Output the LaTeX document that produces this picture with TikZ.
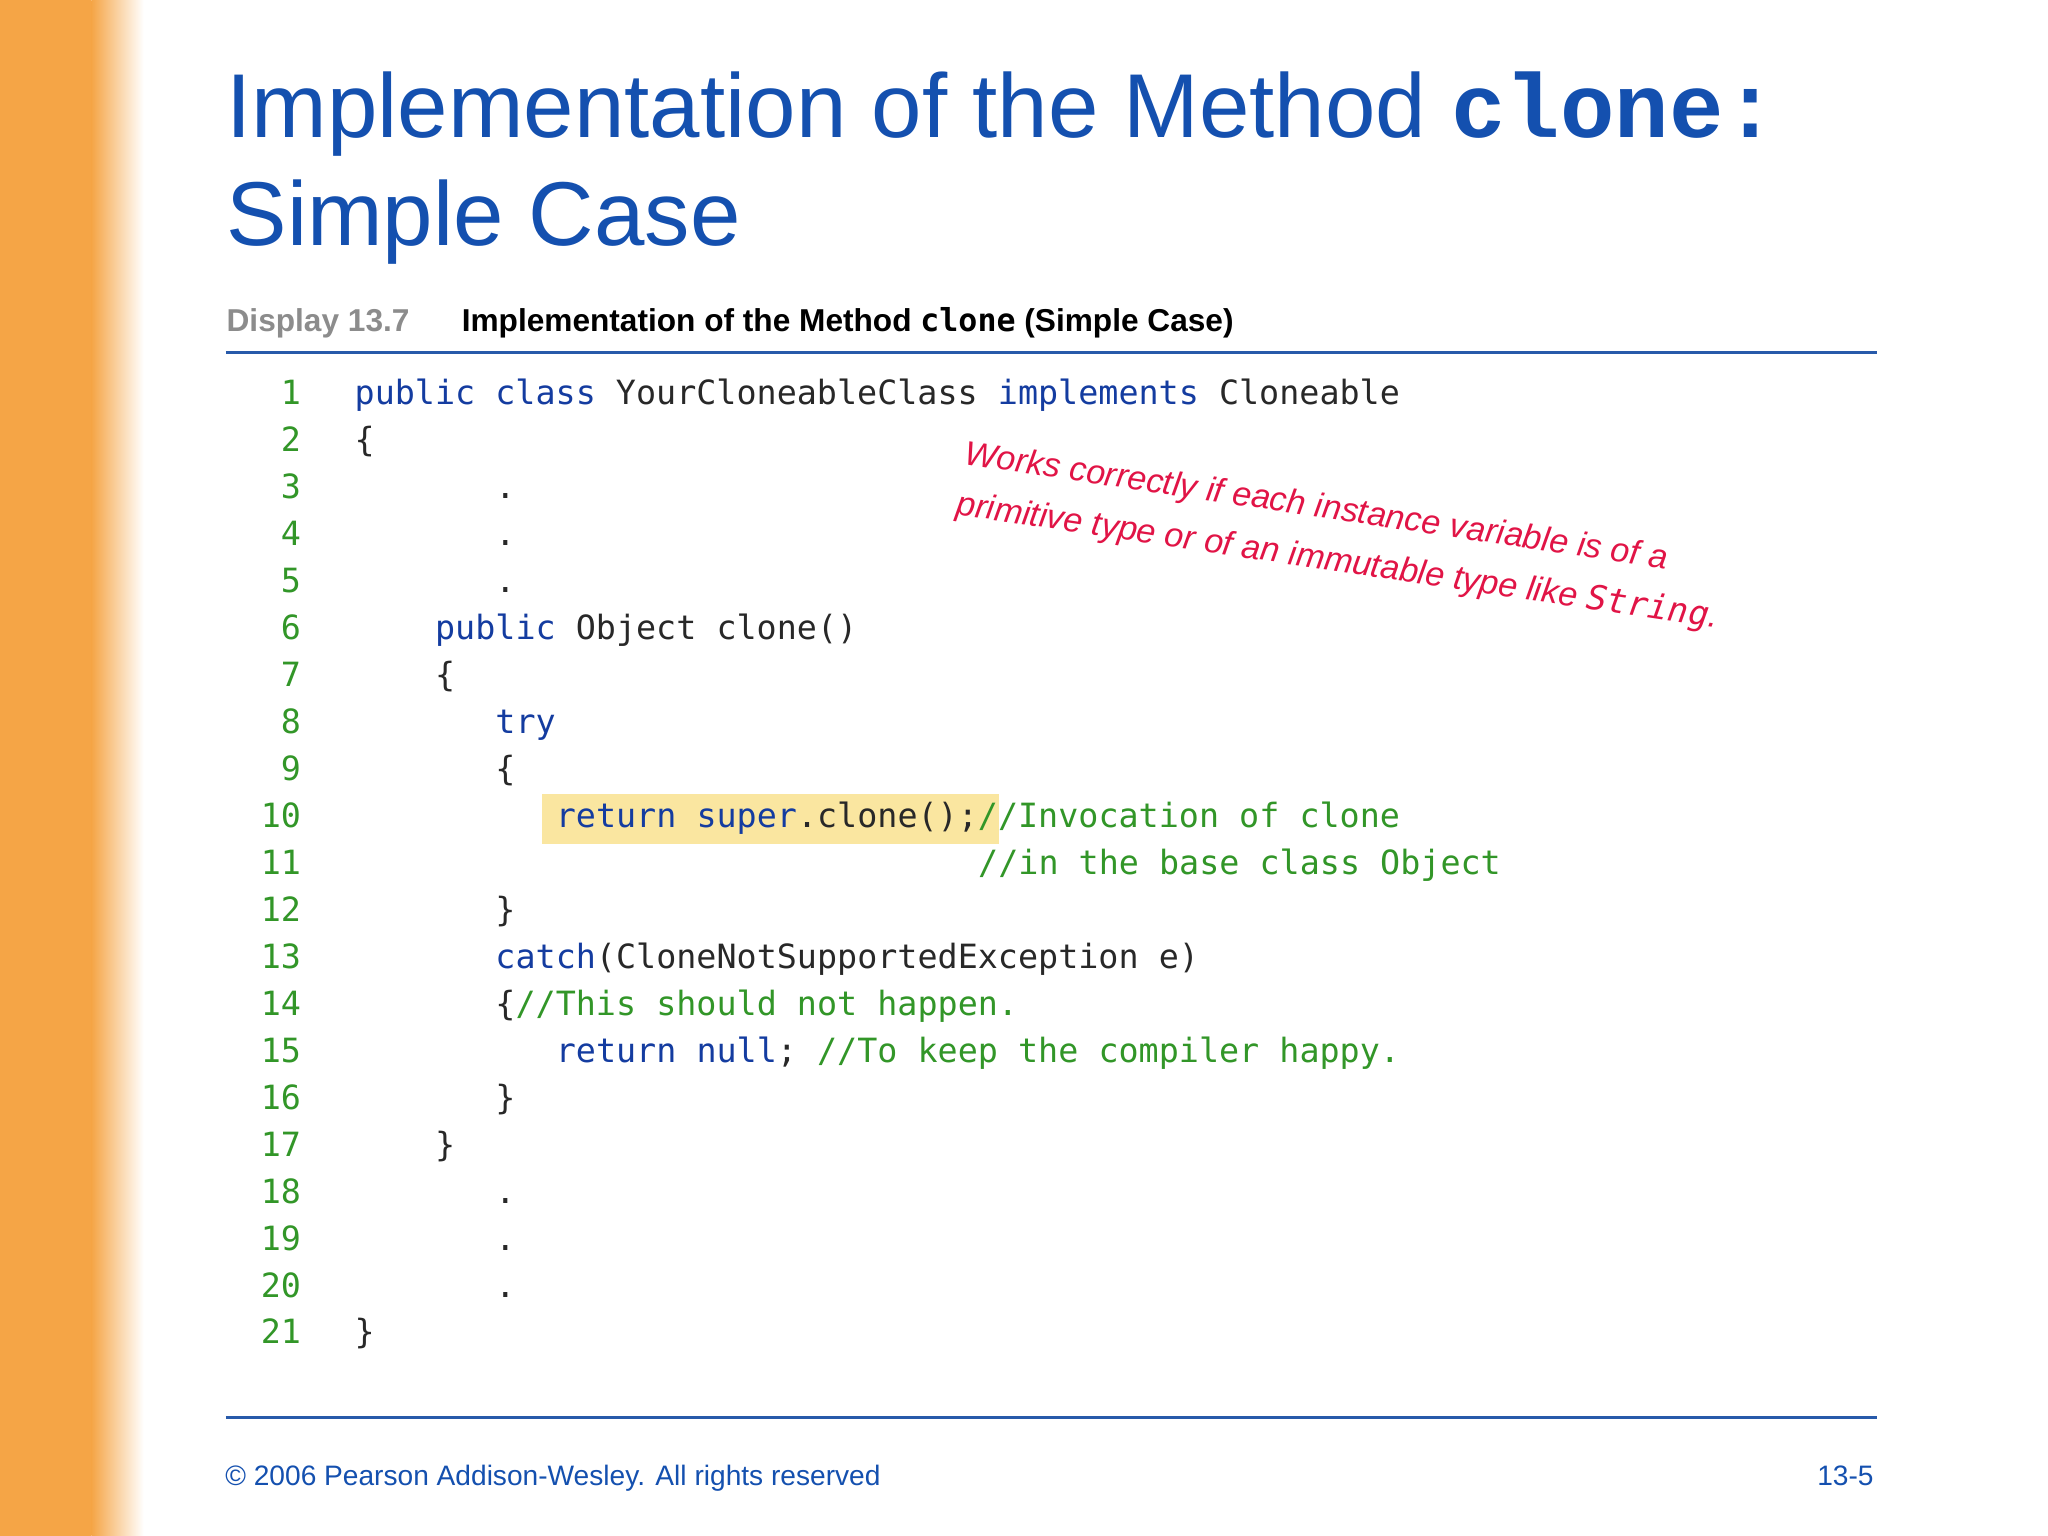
\documentclass[tikz,border=0pt]{standalone}
\usepackage{fontspec}
\setmainfont{Liberation Sans}
\newfontfamily\codefont{DejaVu Sans Mono}
\newfontfamily\crfont{Liberation Mono}
\usetikzlibrary{calc}
\definecolor{titleblue}{RGB}{20,80,175}
\definecolor{kw}{RGB}{20,60,160}
\definecolor{cm}{RGB}{50,150,40}
\definecolor{tx}{RGB}{40,40,40}
\definecolor{annot}{RGB}{225,20,70}
\definecolor{hl}{RGB}{250,230,160}
\definecolor{orng}{RGB}{245,165,70}
\definecolor{rule}{RGB}{40,90,170}
\newcommand{\K}[1]{\textcolor{kw}{#1}}
\newcommand{\Cm}[1]{\textcolor{cm}{#1}}
\begin{document}
\begin{tikzpicture}[x=0.01306cm,y=-0.01306cm,
  codeline/.style={anchor=base west,inner sep=0,font=\codefont\fontsize{9.5pt}{11pt}\selectfont,text=tx},
  lnum/.style={anchor=base east,inner sep=0,font=\codefont\fontsize{9.5pt}{11pt}\selectfont,text=cm}]
\useasboundingbox (0,0) rectangle (1568,1176);
\fill[white] (0,0) rectangle (1568,1176);
\shade[left color=orng,right color=orng] (0,0) rectangle (70,1176);
\shade[left color=orng,right color=white] (70,0) rectangle (110,1176);
% title
\node[anchor=base west,inner sep=0,text=titleblue,font=\fontsize{25.8pt}{30pt}\selectfont] (t1) at (173,105) {Implementation of the Method \textbf{\crfont clone:}};
\node[anchor=base west,inner sep=0,text=titleblue,font=\fontsize{25.8pt}{30pt}\selectfont] (t2) at (173,188) {Simple Case};
% display header
\node[anchor=base west,inner sep=0,font=\bfseries\fontsize{9pt}{10pt}\selectfont,text=black!45] (dh) at (173,254) {Display 13.7};
\node[anchor=base west,inner sep=0,font=\bfseries\fontsize{9pt}{10pt}\selectfont] (dt) at (353,254) {Implementation of the Method {\codefont clone} (Simple Case)};
\draw[rule,line width=0.8pt] (173,270) -- (1437,270);
\draw[rule,line width=0.8pt] (173,1085) -- (1437,1085);
% highlight
\fill[hl] (415,608) rectangle (765,646);
% line numbers
\foreach \n in {1,...,21}{\node[lnum] (n\n) at (231,{300+(\n-1)*35.95+10}) {\n};}
\def\L#1#2#3{\node[codeline] (c#1) at ({271+#2*15.4},{300+(#1-1)*35.95+10}) {#3};}
\L{1}{0}{\K{public class} YourCloneableClass \K{implements} Cloneable}
\L{2}{0}{\{}
\L{3}{7}{.}
\L{4}{7}{.}
\L{5}{7}{.}
\L{6}{4}{\K{public} Object clone()}
\L{7}{4}{\{}
\L{8}{7}{\K{try}}
\L{9}{7}{\{}
\L{10}{10}{\K{return super}.clone();\Cm{//Invocation of clone}}
\L{11}{31}{\Cm{//in the base class Object}}
\L{12}{7}{\}}
\L{13}{7}{\K{catch}(CloneNotSupportedException e)}
\L{14}{7}{\{\Cm{//This should not happen.}}
\L{15}{10}{\K{return null}; \Cm{//To keep the compiler happy.}}
\L{16}{7}{\}}
\L{17}{4}{\}}
\L{18}{7}{.}
\L{19}{7}{.}
\L{20}{7}{.}
\L{21}{0}{\}}
% annotation
\node[anchor=north west,inner sep=0,rotate=-8.5,text=annot,font=\itshape\fontsize{9.7pt}{14.5pt}\selectfont,align=left] (an) at (740,336) {Works correctly if each instance variable is of a\\primitive type or of an immutable type like {\codefont String}.};
% footer
\node[anchor=base west,inner sep=0,font=\fontsize{8pt}{9pt}\selectfont,text=titleblue] (ft) at (172,1137) {\textcopyright\ 2006 Pearson Addison-Wesley. All rights reserved};
\node[anchor=base east,inner sep=0,font=\fontsize{8pt}{9pt}\selectfont,text=titleblue] (pg) at (1435,1137) {13-5};
\end{tikzpicture}
\end{document}
